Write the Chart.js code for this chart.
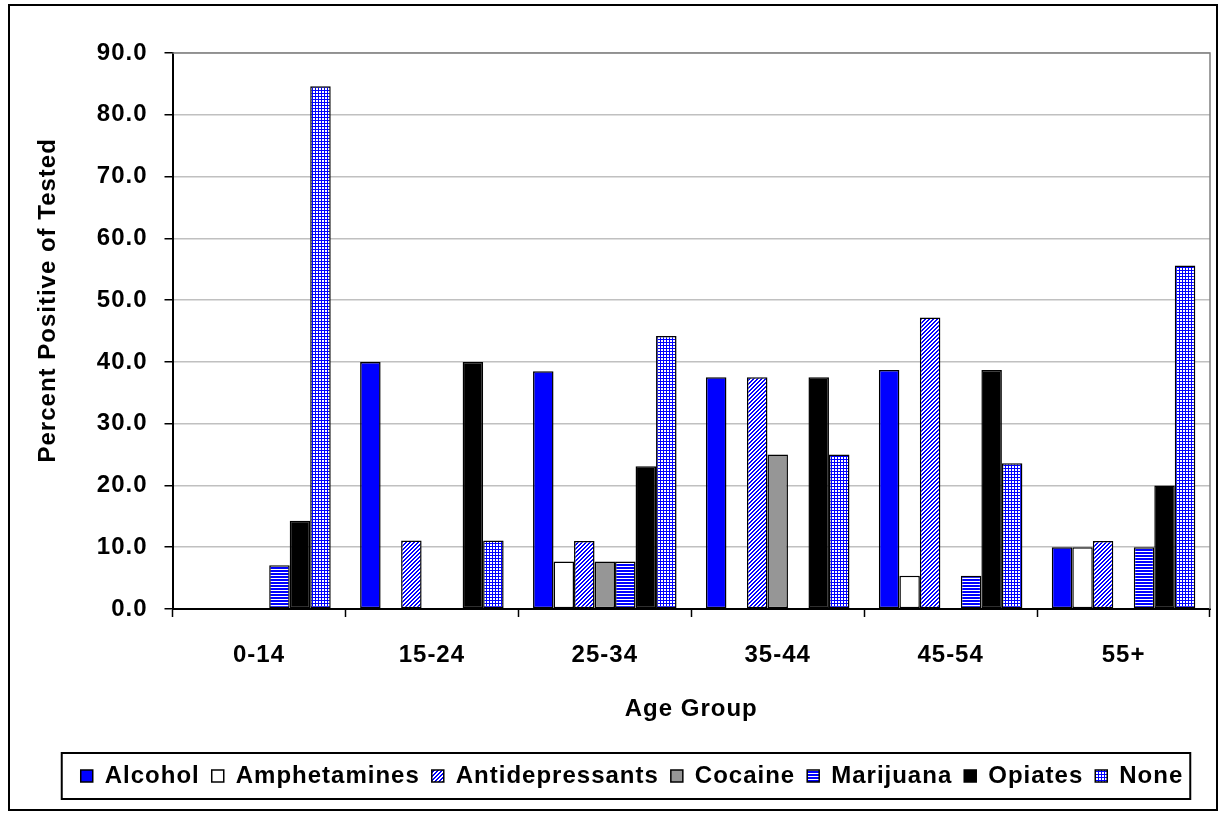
<!DOCTYPE html>
<html>
<head>
<meta charset="utf-8">
<script src="https://cdn.jsdelivr.net/npm/chart.js@4.4.0/dist/chart.umd.min.js"></script>
<style>
html,body{margin:0;padding:0;background:#fff;}
canvas{display:block;}
</style>
</head>
<body>
<canvas id="c" width="1225" height="816"></canvas>
<script>
// ---- data ----
const categories = ['0-14', '15-24', '25-34', '35-44', '45-54', '55+'];
const seriesNames = ['Alcohol', 'Amphetamines', 'Antidepressants', 'Cocaine', 'Marijuana', 'Opiates', 'None'];
const alcohol         = [0.0, 40.0, 38.5, 37.5, 38.7, 10.0];
const amphetamines    = [0.0,  0.0,  7.7,  0.0,  5.4, 10.0];
const antidepressants = [0.0, 11.1, 11.0, 37.5, 47.2, 11.0];
const cocaine         = [0.0,  0.0,  7.7, 25.0,  0.0,  0.0];
const marijuana       = [7.1,  0.0,  7.7,  0.0,  5.4, 10.0];
const opiates         = [14.3, 40.0, 23.1, 37.5, 38.7, 20.0];
const none            = [84.6, 11.1, 44.2, 25.0, 23.6, 55.6];
const yTickValues = [0, 10, 20, 30, 40, 50, 60, 70, 80, 90];
const xAxisTitle = 'Age Group';
const yAxisTitle = 'Percent Positive of Tested';

// ---- patterns ----
const canvas = document.getElementById('c');
const ctx0 = canvas.getContext('2d');
function makePattern(w, h, draw) {
  const c = document.createElement('canvas');
  c.width = w; c.height = h;
  const x = c.getContext('2d');
  draw(x);
  return ctx0.createPattern(c, 'repeat');
}
const BLUE = '#0000ff';
const diagPattern = makePattern(4, 4, (x) => {
  x.fillStyle = '#fff'; x.fillRect(0, 0, 4, 4);
  x.fillStyle = BLUE;
  for (let i = 0; i < 4; i++) { x.fillRect(i, 3 - i, 1, 1); x.fillRect(i, (4 - i) % 4, 1, 1); }
});
const horizPattern = makePattern(3, 3, (x) => {
  x.fillStyle = '#fff'; x.fillRect(0, 0, 3, 3);
  x.fillStyle = BLUE; x.fillRect(0, 0, 3, 2);
});
const gridPattern = makePattern(3, 3, (x) => {
  x.fillStyle = '#fff'; x.fillRect(0, 0, 3, 3);
  x.fillStyle = BLUE; x.fillRect(0, 0, 3, 1); x.fillRect(0, 0, 1, 3);
});

const seriesValues = [alcohol, amphetamines, antidepressants, cocaine, marijuana, opiates, none];
const seriesFills = [BLUE, '#ffffff', diagPattern, '#969696', horizPattern, '#000000', gridPattern];

const FONT = { family: '"Liberation Sans", Arial, sans-serif', weight: 'bold', size: 24 };
Chart.defaults.font.family = FONT.family;
Chart.defaults.color = '#000';

const frame = {
  id: 'frame',
  beforeUpdate(chart) { chart.ctx.letterSpacing = '1px'; },
  beforeLayout(chart) { chart.ctx.letterSpacing = '1px'; },
  beforeDraw(chart) {
    const c = chart.ctx;
    c.letterSpacing = '1px';
    c.save(); c.fillStyle = '#fff'; c.fillRect(0, 0, chart.width, chart.height); c.restore();
  },
  beforeDatasetsDraw(chart) {
    const c = chart.ctx, a = chart.chartArea;
    c.save();
    c.strokeStyle = '#808080'; c.lineWidth = 1.5;
    c.beginPath();
    c.moveTo(a.left, a.top); c.lineTo(a.right, a.top); c.lineTo(a.right, a.bottom);
    c.stroke();
    c.restore();
  },
  afterDraw(chart) {
    const c = chart.ctx;
    c.save();
    c.strokeStyle = '#000'; c.lineWidth = 2;
    c.strokeRect(9, 5, 1208, 805);
    const hb = chart.legend.legendHitBoxes;
    if (hb && hb.length) {
      let l = Infinity, r = -Infinity, t = Infinity, b = -Infinity;
      hb.forEach(h => { l = Math.min(l, h.left); r = Math.max(r, h.left + h.width); t = Math.min(t, h.top); b = Math.max(b, h.top + h.height); });
      const cy = (t + b) / 2;
      c.lineWidth = 2;
      c.strokeRect(l - 19, cy - 23, (r + 7) - (l - 19), 46);
    }
    c.restore();
  }
};

new Chart(canvas, {
  type: 'bar',
  data: {
    labels: categories,
    datasets: seriesNames.map((name, i) => ({
      label: name,
      data: seriesValues[i],
      backgroundColor: seriesFills[i],
      borderColor: '#000',
      borderWidth: 1.5,
      borderSkipped: false,
      categoryPercentage: 0.83,
      barPercentage: 1.0
    }))
  },
  options: {
    responsive: false,
    animation: false,
    devicePixelRatio: 1,
    layout: { padding: { top: 53, left: 54, right: 15, bottom: 18 } },
    plugins: {
      tooltip: { enabled: false },
      legend: {
        position: 'bottom',
        labels: {
          boxWidth: 12, boxHeight: 12, padding: 12,
          font: FONT, color: '#000'
        }
      }
    },
    scales: {
      x: {
        grid: { offset: true, drawOnChartArea: false, tickColor: '#000', tickLength: 8, tickWidth: 1.5 },
        border: { color: '#000', width: 2 },
        ticks: { font: FONT, color: '#000', padding: 24, maxRotation: 0 },
        title: { display: true, text: xAxisTitle, font: FONT, color: '#000', padding: { top: 0, bottom: 28.6 } },
        afterFit(scale) { scale.height = 143; }
      },
      y: {
        min: yTickValues[0],
        max: yTickValues[yTickValues.length - 1],
        afterBuildTicks(scale) { scale.ticks = yTickValues.map(v => ({ value: v })); },
        ticks: { font: FONT, color: '#000', padding: 17, callback: (v) => Number(v).toFixed(1) },
        grid: { color: '#c0c0c0', lineWidth: 1.5, tickColor: '#000', tickLength: 8, tickWidth: 1.5 },
        border: { color: '#000', width: 2 },
        title: { display: true, text: '\u00A0'.repeat(8) + yAxisTitle, font: FONT, color: '#000', padding: { top: -20.4, bottom: 0 } },
        afterFit(scale) { scale.width = 118.5; }
      }
    }
  },
  plugins: [frame]
});
</script>
</body>
</html>
